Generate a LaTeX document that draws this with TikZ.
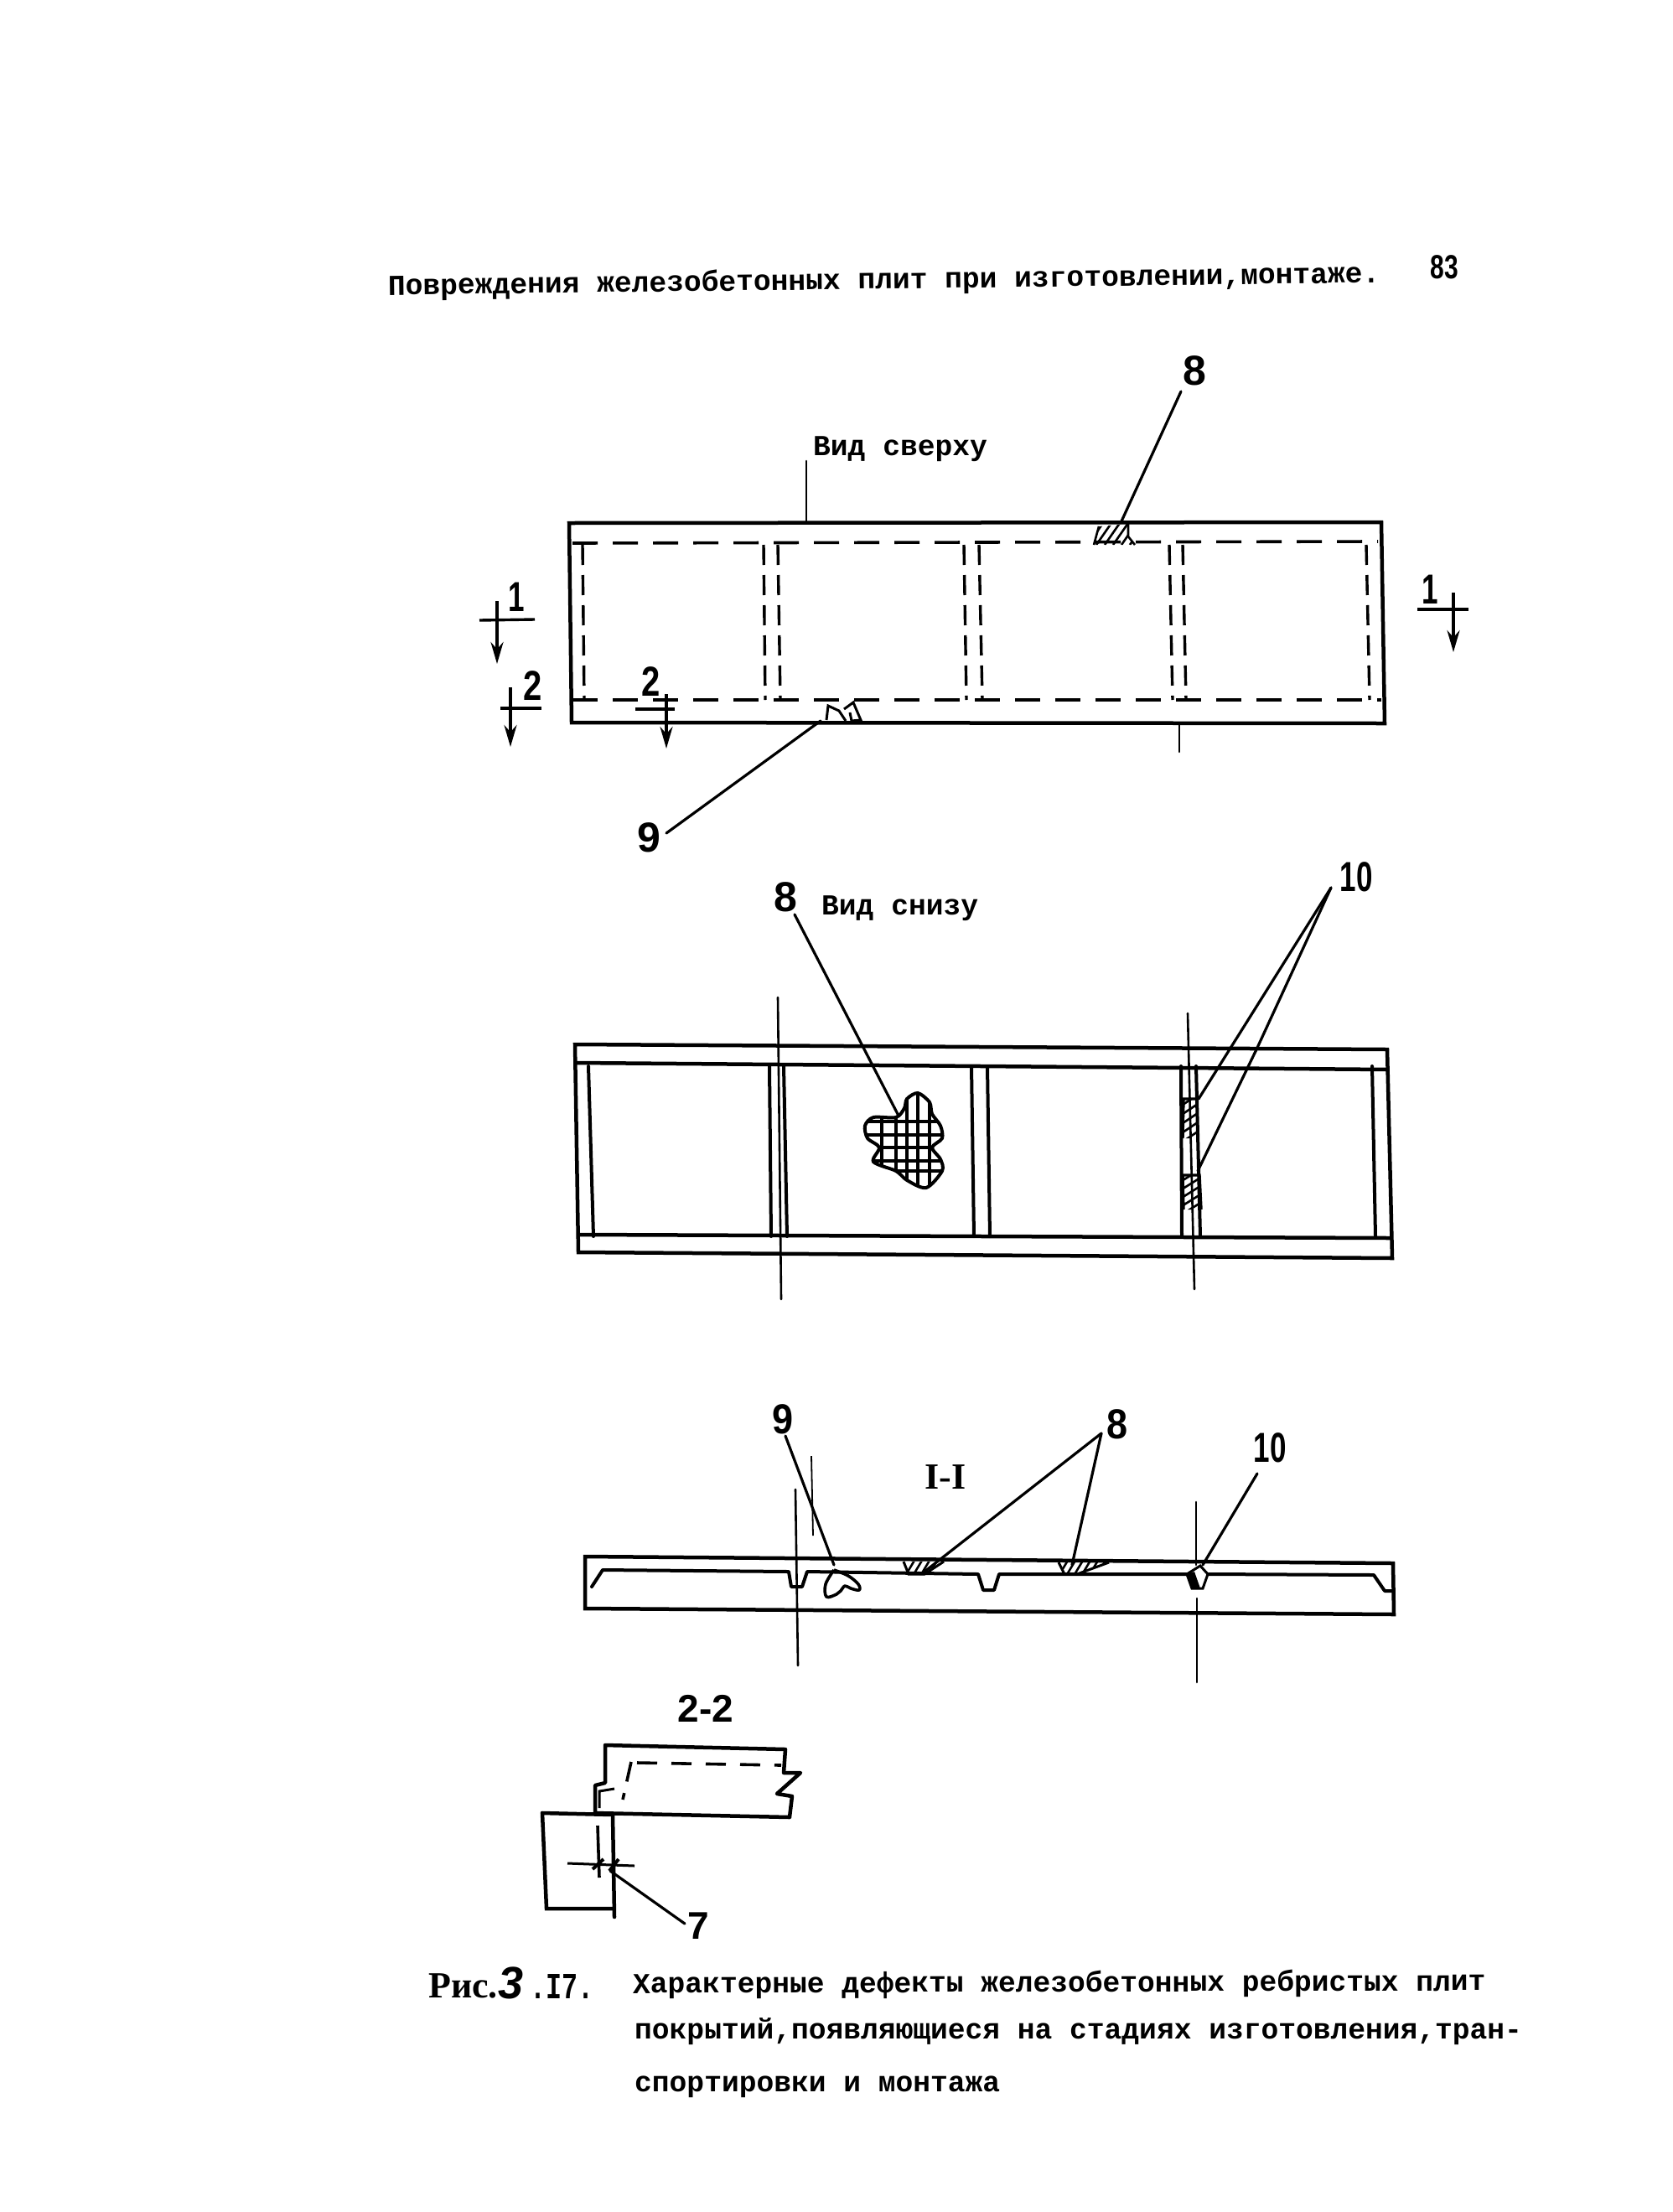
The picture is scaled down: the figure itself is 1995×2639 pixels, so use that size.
\documentclass[tikz,border=0pt]{standalone}
\usepackage{fontspec}
\usetikzlibrary{arrows.meta}
\setmainfont{Liberation Serif}
\newfontfamily\twfont{Liberation Mono}
\newfontfamily\hdfont{Liberation Sans}
\newfontfamily\srfont{Liberation Serif}
\newcommand{\fsz}[1]{\fontsize{#1}{#1}\selectfont}
\newcommand{\hwnum}[2]{\scalebox{#1}[1]{\hdfont\bfseries\fsz{50}#2}}
\tikzset{
  contour/.style={line width=4.5pt,line join=miter,line cap=round},
  ribline/.style={line width=4pt,line cap=round},
  thinline/.style={line width=2.6pt,line cap=round},
  leader/.style={line width=3.2pt,line cap=round},
  dashH/.style={line width=3.6pt,dash pattern=on 30pt off 18pt},
  dashV/.style={line width=3.4pt,dash pattern=on 24pt off 12pt},
  cutmark/.style={line width=3.4pt,-{Stealth[length=26pt,width=15pt]}},
  tick/.style={line width=3.4pt},
  hatch/.style={line width=2.6pt},
  typed/.style={inner sep=0pt,anchor=base west,font=\twfont\bfseries\fsz{34.6}},
  numlab/.style={inner sep=0pt,anchor=center}
}
\begin{document}
\begin{tikzpicture}[x=1pt,y=-1pt]
\useasboundingbox[fill=white] (0,0) rectangle (1995,2639);

% ---------- header ----------
\node[typed,rotate=0.72] (head) at (463,352) {Повреждения железобетонных плит при изготовлении,монтаже.};
\node[numlab] (pageno) at (1723,319) {\scalebox{.75}[1]{\hdfont\bfseries\fsz{40}83}};

% ---------- top view ----------
\node[typed] (topview) at (970,543) {Вид сверху};
\draw[contour] (679,624) -- (1648,623) -- (1652,863) -- (682,862) -- cycle;
\draw[dashH] (683,648) -- (1644,646);
\draw[dashH] (683,835) -- (1648,835);
\foreach \xa/\xb in {695/697,911/913,928/931,1150/1153,1168/1172,1395/1399,1411/1415,1630/1634}
  \draw[dashV] (\xa,650) -- (\xb,835);
\coordinate (tvtick) at (962,550); \coordinate (tvtickb) at (962,624);
\draw[thinline] (tvtick) -- (tvtickb);
\coordinate (tvtickc) at (1407,863); \coordinate (tvtickd) at (1407,897);
\draw[thinline] (tvtickc) -- (tvtickd);
% damage 8 on the top view
\begin{scope}
  \clip (1305,650) -- (1311,628) -- (1346,625) -- (1346,640) -- (1354,650) -- cycle;
  \foreach \i in {0,10,...,50} \draw[hatch] (1298+\i,650) -- (1316+\i,624);
\end{scope}
\draw[line width=2.6pt] (1305,650) -- (1311,628) (1346,625) -- (1346,640) -- (1354,650);
\node[numlab] (tv8) at (1425,442) {\hwnum{1}{8}};
\coordinate (tv8a) at (1409,467); \coordinate (tv8b) at (1337,624);
\draw[leader] (tv8a) -- (tv8b);
% damage 9 on the top view
\draw[line width=3pt,fill=white] (986,859) -- (988,842) -- (1001,848) -- (1009,860);
\draw[line width=3pt,fill=white] (1007,846) -- (1018,838) -- (1027,859) -- (1016,860) -- (1014,850);
\node[numlab] (tv9) at (774,999) {\hwnum{1}{9}};
\coordinate (tv9a) at (795,994); \coordinate (tv9b) at (979,860);
\draw[leader] (tv9a) -- (tv9b);
% section marks
\node[numlab] (cutA) at (616,712) {\hwnum{.7}{1}};
\coordinate (cutAa) at (572,740); \coordinate (cutAb) at (638,739);
\coordinate (cutAc) at (593,717); \coordinate (cutAd) at (593,792);
\draw[tick] (cutAa) -- (cutAb);
\draw[cutmark] (cutAc) -- (cutAd);
\node[numlab] (cutB) at (636,818) {\hwnum{.8}{2}};
\coordinate (cutBa) at (597,845); \coordinate (cutBb) at (646,845);
\coordinate (cutBc) at (609,820); \coordinate (cutBd) at (609,891);
\draw[tick] (cutBa) -- (cutBb);
\draw[cutmark] (cutBc) -- (cutBd);
\node[numlab] (cutC) at (777,813) {\hwnum{.8}{2}};
\coordinate (cutCa) at (758,846); \coordinate (cutCb) at (805,846);
\coordinate (cutCc) at (795,828); \coordinate (cutCd) at (795,893);
\draw[tick] (cutCa) -- (cutCb);
\draw[cutmark] (cutCc) -- (cutCd);
\node[numlab] (cutD) at (1706,703) {\hwnum{.7}{1}};
\coordinate (cutDa) at (1691,727); \coordinate (cutDb) at (1752,727);
\coordinate (cutDc) at (1734,707); \coordinate (cutDd) at (1734,778);
\draw[tick] (cutDa) -- (cutDb);
\draw[cutmark] (cutDc) -- (cutDd);

% ---------- bottom view ----------
\node[typed] (botview) at (980,1091) {Вид снизу};
\draw[contour] (686,1246) -- (1655,1252) -- (1661,1501) -- (690,1494) -- cycle;
\draw[contour] (688,1268) -- (1655,1276);
\draw[contour] (692,1473) -- (1658,1477);
\foreach \xa/\xb in {702/708,918/920,935/939,1159/1162,1178/1181,1409/1410,1427/1432,1637/1641}
  \draw[ribline] (\xa,1272) -- (\xb,1475);
\coordinate (bvca) at (928,1190); \coordinate (bvcb) at (932,1550);
\draw[thinline] (bvca) -- (bvcb);
\coordinate (bvcc) at (1417,1209); \coordinate (bvcd) at (1425,1538);
\draw[thinline] (bvcc) -- (bvcd);
% spalled area with mesh
\begin{scope}
  \clip plot[smooth cycle,tension=.5] coordinates {(1095,1304) (1109,1315) (1112,1329) (1122,1343) (1124,1358) (1112,1369) (1122,1383) (1124,1397) (1105,1417) (1082,1408) (1069,1397) (1042,1386) (1049,1369) (1035,1358) (1032,1343) (1042,1333) (1069,1333) (1079,1322) (1082,1311)};
  \foreach \x in {1052,1069,1082,1095,1109} \draw[line width=3.4pt] (\x,1300) -- (\x,1420);
  \foreach \y in {1338,1354,1369,1385,1397} \draw[line width=3.4pt] (1030,\y) -- (1126,\y);
\end{scope}
\draw[line width=4pt] plot[smooth cycle,tension=.5] coordinates {(1095,1304) (1109,1315) (1112,1329) (1122,1343) (1124,1358) (1112,1369) (1122,1383) (1124,1397) (1105,1417) (1082,1408) (1069,1397) (1042,1386) (1049,1369) (1035,1358) (1032,1343) (1042,1333) (1069,1333) (1079,1322) (1082,1311)};
\node[numlab] (bv8) at (937,1070) {\hwnum{1}{8}};
\coordinate (bv8a) at (948,1091); \coordinate (bv8b) at (1072,1331);
\draw[leader] (bv8a) -- (bv8b);
% damage 10 on the bottom view
\begin{scope}
  \clip (1412,1311) -- (1429,1311) -- (1430,1358) -- (1411,1358) -- cycle;
  \foreach \i in {0,11,...,55} \draw[hatch] (1405,1322+\i) -- (1435,1302+\i);
\end{scope}
\draw[line width=3.4pt] (1411,1358) -- (1412,1311) -- (1429,1311);
\begin{scope}
  \clip (1411,1402) -- (1431,1402) -- (1433,1443) -- (1412,1443) -- cycle;
  \foreach \i in {0,10,...,50} \draw[hatch] (1405,1412+\i) -- (1437,1392+\i);
\end{scope}
\draw[line width=3.4pt] (1412,1443) -- (1411,1402) -- (1431,1402) -- (1433,1443);
\node[numlab] (bv10) at (1618,1046) {\hwnum{.7}{10}};
\coordinate (bv10a) at (1588,1059); \coordinate (bv10b) at (1430,1311); \coordinate (bv10c) at (1429,1397);
\coordinate (bv10k) at (1500,1250);
\draw[leader] (bv10a) -- (bv10b);
\draw[leader] (bv10a) -- (bv10k) -- (bv10c);

% ---------- section I-I ----------
\node[numlab] (secI) at (1128,1762) {\srfont\bfseries\fsz{44}I-I};
\draw[contour] (698,1857) -- (1662,1865) -- (1663,1926) -- (698,1919) -- cycle;
\draw[ribline,line join=round] (706,1893) -- (719,1873) -- (941,1875) -- (944,1893) -- (957,1893) -- (963,1875) -- (1167,1878) -- (1173,1897) -- (1186,1897) -- (1192,1878) -- (1413,1878) -- (1416,1878) (1441,1878) -- (1639,1879) -- (1652,1898) -- (1662,1898);
\coordinate (sca) at (949,1777); \coordinate (scb) at (952,1987);
\draw[thinline] (sca) -- (scb);
\coordinate (scc) at (1427,1792); \coordinate (scd) at (1427,1867);
\draw[thinline] (scc) -- (scd);
\coordinate (sce) at (1428,1907); \coordinate (scf) at (1428,2007);
\draw[thinline] (sce) -- (scf);
\coordinate (scg) at (968,1737); \coordinate (sch) at (970,1832);
\draw[line width=1.8pt] (scg) -- (sch);
% damage 8 on the section
\begin{scope}
  \clip (1078,1863) -- (1126,1863) -- (1103,1878) -- (1084,1878) -- cycle;
  \foreach \i in {0,9,...,45} \draw[hatch] (1080+\i,1880) -- (1092+\i,1860);
\end{scope}
\draw[line width=3pt] (1078,1863) -- (1084,1878) -- (1103,1878) -- (1126,1863);
\begin{scope}
  \clip (1263,1864) -- (1323,1864) -- (1285,1878) -- (1270,1878) -- cycle;
  \foreach \i in {0,9,...,54} \draw[hatch] (1263+\i,1880) -- (1275+\i,1860);
\end{scope}
\draw[line width=3pt] (1263,1864) -- (1270,1878) -- (1285,1878) -- (1323,1864);
\node[numlab] (sec8) at (1333,1699) {\hwnum{.9}{8}};
\coordinate (sec8a) at (1314,1710); \coordinate (sec8b) at (1103,1875); \coordinate (sec8c) at (1279,1867);
\draw[leader] (sec8a) -- (sec8b);
\draw[leader] (sec8a) -- (sec8c);
% damage 9 on the section
\draw[line width=3.6pt,line join=round] plot[smooth,tension=.6] coordinates {(995,1873) (1012,1880) (1024,1890) (1025,1897) (1015,1895) (1008,1892) (1003,1898) (998,1902) (986,1905) (985,1890) (995,1873)};
\node[numlab] (sec9) at (934,1693) {\hwnum{.9}{9}};
\coordinate (sec9a) at (937,1713); \coordinate (sec9b) at (995,1867);
\draw[leader] (sec9a) -- (sec9b);
% damage 10 on the section
\draw[line width=3pt] (1432,1868) -- (1441,1878) -- (1435,1895) -- (1422,1895) -- (1416,1878) -- cycle;
\fill (1416,1878) -- (1425,1875) -- (1432,1895) -- (1422,1895) -- cycle;
\node[numlab] (sec10) at (1515,1727) {\hwnum{.7}{10}};
\coordinate (sec10a) at (1500,1758); \coordinate (sec10b) at (1435,1867);
\draw[leader] (sec10a) -- (sec10b);

% ---------- section 2-2 ----------
\node[numlab] (secII) at (842,2038) {\hdfont\bfseries\fsz{46}2-2};
\draw[contour,line join=round] (722,2082) -- (937,2087) -- (935,2115) -- (955,2115) -- (927,2140) -- (945,2143) -- (942,2168) -- (710,2163) -- (710,2130) -- (722,2127) -- cycle;
\draw[line width=3pt] (715,2157) -- (715,2137) -- (733,2134);
\draw[line width=3.6pt,dash pattern=on 24pt off 17pt] (760,2103) -- (932,2106);
\draw[line width=3.6pt,dash pattern=on 24pt off 14pt] (753,2102) -- (743,2147);
\draw[contour] (647,2163) -- (652,2277) -- (732,2277);
\draw[contour] (647,2163) -- (731,2165);
\coordinate (sqa) at (731,2165); \coordinate (sqb) at (733,2287);
\draw[contour] (sqa) -- (sqb);
\coordinate (sqc) at (713,2178); \coordinate (sqd) at (715,2240);
\draw[line width=3.6pt] (sqc) -- (sqd);
\coordinate (sqe) at (677,2223); \coordinate (sqf) at (757,2226);
\draw[line width=3pt] (sqe) -- (sqf);
\draw[line width=4pt] (707,2230) -- (720,2218) (727,2232) -- (738,2218);
\node[numlab] (sec7) at (833,2298) {\hdfont\bfseries\fsz{46}7};
\coordinate (sec7a) at (728,2232); \coordinate (sec7b) at (817,2295);
\draw[leader] (sec7a) -- (sec7b);

% ---------- caption ----------
\node[inner sep=0pt,anchor=base west] (capa) at (511,2383) {\srfont\bfseries\fsz{44}Рис.};
\node[inner sep=0pt,anchor=base west] (capb) at (594,2384) {\hdfont\bfseries\itshape\fsz{54}3};
\node[inner sep=0pt,anchor=base west] (capc) at (632,2384) {\scalebox{.72}[1]{\twfont\bfseries\fsz{44}.I7.}};
\node[typed,rotate=0.18] (cap1) at (755,2378) {Характерные дефекты железобетонных ребристых плит};
\node[typed] (cap2) at (757,2432) {покрытий,появляющиеся на стадиях изготовления,тран-};
\node[typed] (cap3) at (757,2495) {спортировки и монтажа};
\end{tikzpicture}
\end{document}
